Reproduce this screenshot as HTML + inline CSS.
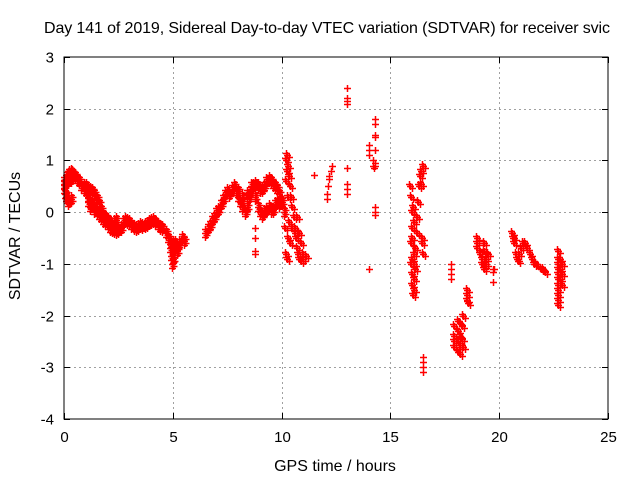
<!DOCTYPE html>
<html><head><meta charset="utf-8"><style>
body{margin:0;background:#fff}
svg{display:block;font-family:"Liberation Sans",sans-serif}
</style></head><body>
<svg id="chart" width="640" height="480" xmlns="http://www.w3.org/2000/svg">
<rect width="640" height="480" fill="#fff"/>
<text x="44" y="33" font-size="16" fill="#000" textLength="566">Day 141 of 2019, Sidereal Day-to-day VTEC variation (SDTVAR) for receiver svic</text>
<g id="grid"></g>
<g id="ticks"></g>
<g id="marks"></g>
<rect x="64" y="57" width="544" height="362" fill="none" stroke="#000" stroke-width="1"/>
<text x="335" y="471" font-size="16" text-anchor="middle">GPS time / hours</text>
<text transform="translate(20,236) rotate(-90)" font-size="16" text-anchor="middle">SDTVAR / TECUs</text>
</svg>
<script>
const xTicks=[0,5,10,15,20,25];
const yTicks=[-4,-3,-2,-1,0,1,2,3];
const segMorning=[[0,0.55],[0.05,0.6],[0.1,0.65],[0.15,0.7],[0.2,0.72],[0.25,0.75],[0.3,0.78],[0.35,0.75],[0.4,0.72],[0.5,0.7],[0.6,0.65],[0.7,0.6],[0.8,0.5],[0.9,0.45],[1.0,0.4],[1.1,0.3],[1.2,0.2],[1.3,0.15],[1.4,0.05],[1.5,0.0],[1.6,-0.05],[1.7,-0.1],[1.8,-0.15],[1.9,-0.2],[2.0,-0.25],[2.1,-0.3],[2.2,-0.33],[2.3,-0.35],[2.4,-0.37],[2.5,-0.35],[2.6,-0.3],[2.7,-0.2],[2.8,-0.15],[2.9,-0.18],[3.0,-0.2],[3.1,-0.25],[3.2,-0.28],[3.3,-0.3],[3.4,-0.28],[3.5,-0.25],[3.6,-0.27],[3.7,-0.25],[3.8,-0.22],[3.9,-0.2],[4.0,-0.18],[4.1,-0.15],[4.2,-0.2],[4.3,-0.25],[4.4,-0.28],[4.5,-0.3],
[0,0.45],[0.05,0.35],[0.1,0.3],[0.15,0.25],[0.2,0.2],[0.3,0.25],[0.0,0.6],[0.2,0.6],[0.3,0.65],
[0.9,0.5],[1.0,0.5],[1.1,0.45],[1.2,0.42],[1.3,0.4],[1.4,0.35],[1.5,0.25],[1.6,0.15],[1.7,0.05],[1.8,-0.05],[1.9,-0.1],[2.0,-0.15],[2.1,-0.2],[2.2,-0.25],[2.3,-0.2],[2.4,-0.15],[1.1,0.2],[1.2,0.1]];
const segNoon=[[4.7,-0.4],[4.8,-0.5],[4.85,-0.7],[4.9,-0.85],[4.95,-1.0],[5.0,-0.9],[5.05,-0.7],[5.1,-0.6],[5.2,-0.65],[5.3,-0.6],[5.4,-0.5],[5.5,-0.55],[5.0,-0.6],[5.2,-0.75],[4.9,-0.6],
[6.5,-0.4],[6.6,-0.3],[6.7,-0.25],[6.8,-0.15],[6.9,-0.1],[7.0,0.0],[7.1,0.05],[7.2,0.15],[7.3,0.25],[7.4,0.35],[7.5,0.4],[7.6,0.35],[7.7,0.45],[7.8,0.5],[7.9,0.4],[8.0,0.3],[8.1,0.2],[8.2,0.1],[8.3,0.0],[8.4,0.1],[8.5,0.3],[8.6,0.4],[8.7,0.5],[8.8,0.55],[8.9,0.5],[9.0,0.45],[9.1,0.45],[9.2,0.5],[9.3,0.6],[9.4,0.65],[9.5,0.6],[9.6,0.55],[9.7,0.5],[9.8,0.45],[9.9,0.35],[10.0,0.2],[10.1,0.0],
[8.0,0.4],[8.2,0.3],[8.4,0.35],[8.6,0.5],[8.8,0.3],[8.9,0.1],[9.0,0.0],[9.1,-0.05],[9.2,0.0],[9.3,0.05],[9.4,0.1],[9.5,0.05],[9.6,0.05],[9.7,0.15],[9.8,0.2],[9.9,0.15]];
const segSparse=[[8.8,-0.3],[8.8,-0.5],[8.8,-0.75],[8.8,-0.8],
[11.5,0.72],[12.1,0.25],[12.1,0.35],[12.15,0.5],[12.2,0.65],[12.25,0.8],[12.3,0.9],[12.2,0.7],
[13.0,2.4],[13.0,2.2],[13.0,2.15],[13.0,2.1],[13.0,0.85],[13.0,0.55],[13.0,0.45],[13.0,0.35],
[14.0,1.1],[14.0,1.2],[14.0,1.3],[14.0,-1.1],[14.2,1.0],[14.2,0.9],[14.3,1.8],[14.3,1.7],[14.3,1.5],[14.3,1.45],[14.3,1.2],[14.3,0.95],[14.3,0.9],[14.3,0.1],[14.3,0.0],[14.3,-0.05],[14.25,0.85],
[16.5,-2.8],[16.5,-2.9],[16.5,-3.0],[16.5,-3.1],
[17.8,-1.0],[17.8,-1.1],[17.8,-1.2],[17.8,-1.3],[19.7,-1.1],[19.7,-1.15],[19.7,-1.35],[19.75,-1.1]];
const segEvening=[[10.2,1.0],[10.25,1.1],[10.3,0.9],[10.35,0.7],[10.4,0.5],[10.45,0.3],[10.5,0.1],[10.55,-0.1],[10.6,-0.3],[10.65,-0.5],[10.7,-0.7],[10.75,-0.8],[10.8,-0.9],[10.2,-0.8],[10.3,-0.5],[10.4,-0.6],[10.5,-0.3],[10.6,-0.4],[10.7,-0.1],[10.8,-0.4],[10.9,-0.6],[11.0,-0.8],[11.0,-0.9],[10.9,-0.95],[11.1,-0.85],[10.25,-0.9],[10.15,-0.3],[10.2,0.6],[10.3,0.3],[10.25,0.8],[10.35,-0.2],
[15.9,0.5],[15.95,0.3],[16.0,0.0],[16.0,-0.3],[15.95,-0.6],[16.0,-0.9],[16.0,-1.2],[16.0,-1.4],[16.05,-1.6],[16.1,-1.5],[16.1,-1.3],[16.1,-1.0],[16.15,-0.7],[16.2,-0.4],[16.2,-0.1],[16.25,0.2],[16.3,0.5],[16.35,0.7],[16.4,0.8],[16.5,0.9],[16.4,0.55],[16.45,-0.5],[16.45,-0.6],[16.5,-0.8],[16.1,-0.2],[16.05,0.1],[15.95,-1.0],[16.15,-1.1],[16.0,-0.5],[16.1,-0.8],
[17.9,-2.2],[17.9,-2.4],[17.9,-2.5],[17.9,-2.6],[18.1,-2.1],[18.1,-2.3],[18.1,-2.5],[18.1,-2.7],[18.2,-2.15],[18.2,-2.4],[18.2,-2.6],[18.2,-2.75],[18.3,-2.2],[18.3,-2.45],[18.35,-2.0],[18.35,-2.6],
[18.5,-1.5],[18.5,-1.6],[18.5,-1.7],[18.55,-1.75],
[19.0,-0.5],[19.0,-0.6],[19.0,-0.7],[19.1,-0.8],[19.2,-0.9],[19.2,-1.0],[19.3,-1.05],[19.3,-1.1],[19.4,-1.0],[19.4,-0.9],[19.3,-0.6],[19.3,-0.75],[19.5,-0.8],
[20.6,-0.4],[20.65,-0.5],[20.7,-0.6],[20.75,-0.8],[20.8,-0.9],[20.9,-0.8],[21.0,-0.7],[21.1,-0.6],[21.2,-0.6],[21.3,-0.7],[21.4,-0.8],[21.5,-0.9],[21.6,-1.0],[21.7,-1.0],[21.8,-1.05],[21.9,-1.1],[22.0,-1.1],[22.1,-1.15],[20.7,-0.5],[20.85,-0.95],
[22.7,-0.75],[22.7,-0.9],[22.7,-1.0],[22.7,-1.1],[22.7,-1.2],[22.7,-1.3],[22.7,-1.4],[22.7,-1.5],[22.7,-1.6],[22.7,-1.7],[22.7,-1.8],[22.8,-0.9],[22.8,-1.1],[22.8,-1.3],[22.9,-1.0],[22.9,-1.2],[22.9,-1.4]];

const X0=64,X1=608,Y0=419,Y1=57,XMIN=0,XMAX=25,YMIN=-4,YMAX=3;
function xs(v){return X0+(v-XMIN)/(XMAX-XMIN)*(X1-X0);}
function ys(v){return Y0-(v-YMIN)/(YMAX-YMIN)*(Y0-Y1);}
const NS="http://www.w3.org/2000/svg";
function mk(tag,attrs,parent){const e=document.createElementNS(NS,tag);for(const k in attrs)e.setAttribute(k,attrs[k]);parent.appendChild(e);return e;}
const grid=document.getElementById('grid'),ticks=document.getElementById('ticks'),marks=document.getElementById('marks');
xTicks.forEach(t=>{const x=Math.round(xs(t))+0.5;
 if(t>XMIN&&t<XMAX){const g=mk('line',{x1:x,x2:x,y1:Y1,y2:Y0,stroke:'#a0a0a0','stroke-dasharray':'2,3'},grid);
 
 }
 const a=mk('line',{x1:x,x2:x,y1:Y0,y2:Y0-6,stroke:'#000'},ticks);
 
 
 const b=mk('line',{x1:x,x2:x,y1:Y1,y2:Y1+6,stroke:'#000'},ticks);
 
 
 const l=mk('text',{x:x,y:442,'font-size':'15','text-anchor':'middle'},ticks);l.textContent=t;
 
 });
yTicks.forEach(t=>{const y=Math.round(ys(t))+0.5;
 if(t>YMIN&&t<YMAX){const g=mk('line',{x1:X0,x2:X1,y1:y,y2:y,stroke:'#a0a0a0','stroke-dasharray':'2,3'},grid);
 
 }
 const a=mk('line',{x1:X0,x2:X0+6,y1:y,y2:y,stroke:'#000'},ticks);
 
 
 const b=mk('line',{x1:X1,x2:X1-6,y1:y,y2:y,stroke:'#000'},ticks);
 
 
 const l=mk('text',{x:54,y:y+5,'font-size':'15','text-anchor':'end'},ticks);l.textContent=t;
 
 });
function cross(x,y){return `M${x-3.5},${y}H${x+3.5}M${x},${y-3.5}V${y+3.5}`;}
let d='';
[segMorning,segNoon].forEach(seg=>seg.forEach(p=>{const x=Math.round(xs(p[0]))+0.5,y=Math.round(ys(p[1]))+0.5;
 d+=cross(x,y-4)+cross(x,y)+cross(x,y+4)+cross(x+1.5,y-2)+cross(x+1.5,y+2);}));
segEvening.forEach(p=>{const x=Math.round(xs(p[0]))+0.5,y=Math.round(ys(p[1]))+0.5;
 d+=cross(x,y)+cross(x+2,y+2)+cross(x-1,y-2);});
segSparse.forEach(p=>{const x=Math.round(xs(p[0]))+0.5,y=Math.round(ys(p[1]))+0.5;
 d+=cross(x,y);});
const path=mk('path',{d:d,stroke:'#ff0000','stroke-width':'1.5',fill:'none'},marks);


</script>
</body></html>
